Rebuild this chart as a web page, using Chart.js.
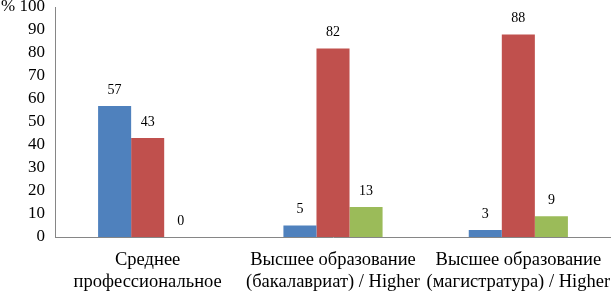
<!DOCTYPE html>
<html>
<head>
<meta charset="utf-8">
<script src="https://cdn.jsdelivr.net/npm/chart.js@4.4.0/dist/chart.umd.min.js"></script>
<style>
  html, body { margin: 0; padding: 0; background: #fff; }
  #wrap { width: 611px; height: 291px; overflow: hidden; }
</style>
</head>
<body>
<div id="wrap"><canvas id="chart" width="611" height="291"></canvas></div>
<script>
// categories (only the visible part of each label)
var categories = [
    ['Среднее', 'профессиональное'],
    ['Высшее образование', '(бакалавриат) / Higher'],
    ['Высшее образование', '(магистратура) / Higher']
];
var seriesBlue = [57, 5, 3];
var seriesRed = [43, 82, 88];
var seriesGreen = [0, 13, 9];
var yTicks = [0, 10, 20, 30, 40, 50, 60, 70, 80, 90, 100];

var serif = "'Liberation Serif', 'Times New Roman', serif";

// draws the value above each bar
var valueLabels = {
    id: 'valueLabels',
    afterDatasetsDraw: function(chart) {
        var ctx = chart.ctx;
        ctx.save();
        ctx.font = '14px ' + serif;
        ctx.fillStyle = '#000';
        ctx.textAlign = 'center';
        ctx.textBaseline = 'bottom';
        chart.data.datasets.forEach(function(ds, i) {
            var meta = chart.getDatasetMeta(i);
            meta.data.forEach(function(bar, j) {
                ctx.fillText(String(ds.data[j]), bar.x, bar.y - 9);
            });
        });
        ctx.restore();
    }
};

var ctx = document.getElementById('chart').getContext('2d');
new Chart(ctx, {
    type: 'bar',
    data: {
        labels: categories,
        datasets: [
            { data: seriesBlue, backgroundColor: '#4F81BD' },
            { data: seriesRed, backgroundColor: '#C0504D' },
            { data: seriesGreen, backgroundColor: '#9BBB59' }
        ]
    },
    options: {
        responsive: false,
        animation: false,
        layout: { padding: { top: 7, left: 0, right: 0, bottom: 0 } },
        datasets: {
            bar: { barPercentage: 1, categoryPercentage: 0.535 }
        },
        plugins: {
            legend: { display: false },
            tooltip: { enabled: false }
        },
        scales: {
            x: {
                grid: { display: false, drawTicks: false },
                border: { color: '#868686', width: 1 },
                ticks: {
                    color: '#000',
                    font: { family: serif, size: 18.5, lineHeight: 1.2 },
                    padding: 12,
                    maxRotation: 0,
                    autoSkip: false
                },
                afterFit: function(scale) {
                    scale.height = 54;
                    scale.paddingLeft = 0;
                    scale.paddingRight = 0;
                }
            },
            y: {
                min: 0,
                max: 100,
                afterBuildTicks: function(scale) {
                    scale.ticks = yTicks.map(function(v) { return { value: v }; });
                },
                grid: { display: false, drawTicks: false },
                border: { color: '#868686', width: 1 },
                ticks: {
                    color: '#000',
                    font: { family: serif, size: 17 },
                    padding: 10,
                    autoSkip: false,
                    callback: function(v) { return v === 100 ? '% 100' : v; }
                },
                afterFit: function(scale) {
                    scale.width = 55;
                    scale.paddingTop = 0;
                    scale.paddingBottom = 0;
                }
            }
        }
    },
    plugins: [valueLabels]
});
</script>
</body>
</html>
